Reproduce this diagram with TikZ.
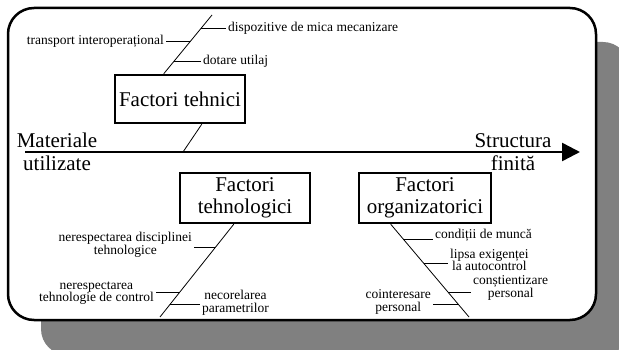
\documentclass[tikz,border=0pt]{standalone}
\usepackage{fontspec}
\setmainfont{Liberation Serif}
\usetikzlibrary{positioning,arrows.meta,calc}
\definecolor{shadowgray}{HTML}{808080}

\begin{document}
\begin{tikzpicture}[x=1pt,y=-1pt,
  factbox/.style={draw, line width=2.5pt, minimum height=48pt, inner sep=2pt, align=center, font=\fontsize{21}{22}\selectfont},
  endtext/.style={inner sep=0pt, align=center, font=\fontsize{21}{23}\selectfont},
  lbl/.style={inner sep=2pt, align=center, font=\fontsize{13.5}{12.5}\selectfont},
  bone/.style={line width=0.8pt},
  twig/.style={line width=0.9pt}]
\useasboundingbox (0,0) rectangle (619,350);
% shadow and frame
\begin{scope}
\clip (0,0) rectangle (619,350);
\fill[shadowgray, rounded corners=26pt] (41,42) rectangle (629,355);
\end{scope}
\draw[line width=2.5pt, fill=white, rounded corners=26pt] (8,8) rectangle (596,320);

% main axis
\coordinate (start) at (25,152);
\coordinate (finish) at (580,152);
\draw[line width=2.5pt, -{Triangle[length=18pt,width=18pt]}] (start) -- (finish);
\node[endtext] (mat) at (57,152) {Materiale\\utilizate};
\node[endtext] (str) at (513,152) {Structura\\finită};

% factor boxes
\node[factbox, minimum width=130pt] (tehn) at (180,99) {Factori tehnici};
\node[factbox, minimum width=130pt, minimum height=50pt] (tehnol) at (245,198) {Factori\\tehnologici};
\node[factbox, minimum width=132pt, minimum height=50pt] (org) at (425,198) {Factori\\organizatorici};

% upper bone
\coordinate (t0) at (212,15);
\coordinate (t1) at ($(tehn.north west)+(50,0)$);
\coordinate (t2) at ($(tehn.south west)+(88,0)$);
\coordinate (t3) at (183,152);
\draw[bone] (t0) -- (t1);
\draw[bone] (t2) -- (t3);
\coordinate (d1) at ($(t0)!0.233!(t1)$);
\coordinate (d2) at ($(t0)!0.45!(t1)$);
\coordinate (d3) at ($(t0)!0.783!(t1)$);
\node[lbl, anchor=base west] (l1) at (226,32) {dispozitive de mica mecanizare};
\node[lbl, anchor=base east] (l2) at (166,45) {transport interoperațional};
\node[lbl, anchor=base west] (l3) at (201,65) {dotare utilaj};
\draw[twig] (d1) -- (d1 -| l1.west);
\draw[twig] (l2.east |- d2) -- (d2);
\draw[twig] (d3) -- (d3 -| l3.west);

% lower left bone
\coordinate (e0) at ($(tehnol.south west)+(55,0)$);
\coordinate (e9) at (160,317);
\draw[bone] (e0) -- (e9);
\coordinate (e1) at ($(e0)!0.255!(e9)$);
\coordinate (e2) at ($(e0)!0.734!(e9)$);
\coordinate (e3) at ($(e0)!0.862!(e9)$);
\node[lbl, anchor=east] (l4) at (194,245) {nerespectarea disciplinei\\tehnologice};
\node[lbl, anchor=east] (l5) at (156,293) {nerespectarea\\tehnologie de control};
\node[lbl, anchor=west] (l6) at (200,303) {necorelarea\\parametrilor};
\draw[twig] (l4.east |- e1) -- (e1);
\draw[twig] (l5.east |- e2) -- (e2);
\draw[twig] (e3) -- (e3 -| l6.west);

% lower right bone
\coordinate (o0) at ($(org.south west)+(33,0)$);
\coordinate (o9) at (469,317);
\draw[bone] (o0) -- (o9);
\coordinate (o1) at ($(o0)!0.16!(o9)$);
\coordinate (o2) at ($(o0)!0.426!(o9)$);
\coordinate (o3) at ($(o0)!0.734!(o9)$);
\coordinate (o4) at ($(o0)!0.862!(o9)$);
\node[lbl, anchor=base west] (l7) at (433,238) {condiții de muncă};
\node[lbl, anchor=west] (l8) at (448,260) {lipsa exigenței\\la autocontrol};
\node[lbl, anchor=west] (l9) at (471,288) {conștientizare\\personal};
\node[lbl, anchor=east] (l10) at (433,302) {cointeresare\\personal};
\draw[twig] (o1) -- (o1 -| l7.west);
\draw[twig] (o2) -- (o2 -| l8.west);
\draw[twig] (o3) -- (o3 -| l9.west);
\draw[twig] (l10.east |- o4) -- (o4);
\end{tikzpicture}
\end{document}
